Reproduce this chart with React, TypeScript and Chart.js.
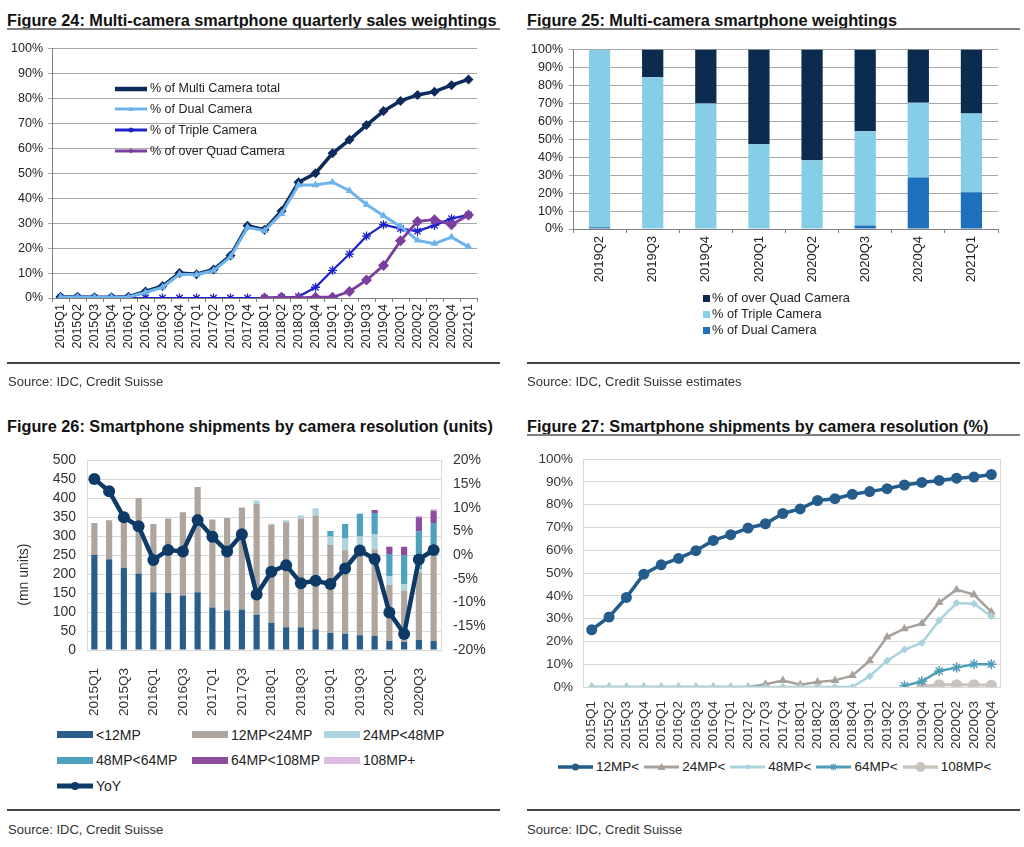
import React, { useEffect, useRef } from 'react';
import { Chart, registerables } from 'chart.js';

Chart.register(...registerables);

const FONT = "'Liberation Sans', Arial, Helvetica, sans-serif";
Chart.defaults.font.family = FONT;

// ---------- Figure 24 data ----------
const quarters24 = ['2015Q1','2015Q2','2015Q3','2015Q4','2016Q1','2016Q2','2016Q3','2016Q4','2017Q1','2017Q2','2017Q3','2017Q4','2018Q1','2018Q2','2018Q3','2018Q4','2019Q1','2019Q2','2019Q3','2019Q4','2020Q1','2020Q2','2020Q3','2020Q4','2021Q1'];
const names24 = ['% of Multi Camera total', '% of Dual Camera', '% of Triple Camera', '% of over Quad Camera'];
const multiTotal = [0.5,0.5,0.3,0.3,0.5,2.6,4.8,10,9.5,11.4,17,29,27.4,34.9,46.4,50,58,63.4,69.3,74.9,79,81.4,82.7,85.3,87.6];
const dualCam = [0.4,0.4,0.3,0.3,0.4,2.2,4.3,9.5,9.3,11,16.5,28.3,27,33.8,45.3,45.3,46.4,43,37.5,33,28.7,23.1,21.8,24.4,20.5];
const tripleCam = [0,0,0,0,0,0,0,0,0,0,0,0,0,0.3,0.5,4.3,11.1,17.6,24.8,29.4,27.8,26.8,29.1,31.8,33.3];
const quadCam = [null,null,null,null,null,null,null,null,null,null,null,null,0,0.3,0,0.3,0.3,2.6,7.2,13,22.9,30.7,31.4,29.4,33.3];
const colors24 = ['#0C2A5B', '#6EB3EC', '#1E22C8', '#7B3E9F'];

// ---------- Figure 25 data ----------
const quarters25 = ['2019Q2','2019Q3','2019Q4','2020Q1','2020Q2','2020Q3','2020Q4','2021Q1'];
const names25 = ['% of Dual Camera', '% of Triple Camera', '% of over Quad Camera'];
const dual25 = [1, 0.3, 0, 0, 0, 2, 28.7, 20.5];
const triple25 = [99, 84.3, 69.9, 47.2, 38.3, 52.4, 41.7, 43.9];
const quad25 = [0, 15.4, 30.1, 52.8, 61.7, 45.6, 29.6, 35.6];
const colors25 = ['#1C70BC', '#86CDE8', '#0B2C4E'];

// ---------- Figure 26 data ----------
const quarters26 = ['2015Q1','2015Q2','2015Q3','2015Q4','2016Q1','2016Q2','2016Q3','2016Q4','2017Q1','2017Q2','2017Q3','2017Q4','2018Q1','2018Q2','2018Q3','2018Q4','2019Q1','2019Q2','2019Q3','2019Q4','2020Q1','2020Q2','2020Q3','2020Q4'];
const names26 = ['<12MP', '12MP<24MP', '24MP<48MP', '48MP<64MP', '64MP<108MP', '108MP+', 'YoY'];
const units12 = [251,239,217,202,152,150,144,152,112,105,107,93,72,60,60,55,45,43,39,37,24,21,27,24];
const units24 = [84,103,129,199,180,197,219,278,232,243,269,292,259,277,286,300,232,220,229,229,148,136,178,234];
const units48 = [0,0,0,0,0,0,0,0,0,0,0,9,2,5,9,19,22,31,31,40,23,17,8,21];
const units64 = [0,0,0,0,0,0,0,0,0,0,0,0,0,0,0,0,15,38,60,55,58,75,100,56];
const units108 = [0,0,0,0,0,0,0,0,0,0,0,0,0,0,0,0,0,0,0,8,19,23,37,32];
const units108p = [0,0,0,0,0,0,0,0,0,0,0,0,0,0,0,0,0,0,0,0,0,0,4,5];
const yoy = [16.1,13.5,8.0,6.1,-1.0,1.1,0.8,7.4,3.9,0.8,4.4,-8.3,-3.5,-2.1,-5.9,-5.4,-6.1,-2.8,1.0,-0.8,-12.1,-16.6,-0.9,1.1];
const colors26 = ['#2B5D8B', '#ADA59E', '#AED5DF', '#4FA2BE', '#8E4C9E', '#D9BCDE', '#0D3A66'];

// ---------- Figure 27 data ----------
const quarters27 = quarters26;
const names27 = ['12MP<', '24MP<', '48MP<', '64MP<', '108MP<'];
const share12 = [25.1,30.7,39.3,49.5,53.6,56.4,59.8,64.3,66.8,69.7,71.6,76.1,78.1,81.8,82.6,84.5,85.7,87,88.6,89.7,90.6,91.6,92.1,93.2];
const share24 = [0,0,0,0,0,0,0,0,0,0,1.2,2.8,1,2.2,2.9,5,11.5,21.9,25.6,27.8,37.1,42.7,40.5,32.9];
const share48 = [0,0,0,0,0,0,0,0,0,0,0,0,0,0,0,0,4.7,11.5,16.4,19.3,29.2,36.8,36.5,31];
const share64 = [null,null,null,null,null,null,null,null,null,null,null,null,null,null,null,null,null,null,0.5,2.5,7,8.5,10,10];
const share108 = [null,null,null,null,null,null,null,null,null,null,null,null,null,null,null,null,null,null,null,0.3,1,1,1,0.8];
const colors27 = ['#245C8C', '#A8A19B', '#A9D3DD', '#4E9DB8', '#C9C3BE'];

const pct = (v: any) => v + '%';

// ---------- configs ----------
function config24(): any {
  return {
    type: 'line',
    data: {
      labels: quarters24,
      datasets: [
        { label: names24[0], data: multiTotal, borderColor: colors24[0], backgroundColor: colors24[0], borderWidth: 3.5, pointStyle: 'rectRot', pointRadius: 5, pointBorderWidth: 0, order: 2 },
        { label: names24[1], data: dualCam, borderColor: colors24[1], backgroundColor: colors24[1], borderWidth: 3, pointStyle: 'triangle', pointRadius: 4.5, pointBorderWidth: 0, order: 1 },
        { label: names24[2], data: tripleCam, borderColor: colors24[2], backgroundColor: colors24[2], borderWidth: 2.2, pointStyle: 'star', pointRadius: 4.5, pointBorderWidth: 1.3, order: 1 },
        { label: names24[3], data: quadCam, borderColor: colors24[3], backgroundColor: colors24[3], borderWidth: 2.8, pointStyle: 'rectRot', pointRadius: 5.5, pointBorderWidth: 0, order: 0 },
      ],
    },
    options: {
      animation: false, responsive: true, maintainAspectRatio: false, events: [],
      layout: { padding: { top: 7, right: 28, left: 0, bottom: 0 } },
      plugins: { legend: { display: false }, tooltip: { enabled: false } },
      scales: {
        x: {
          offset: true,
          grid: { display: true, drawOnChartArea: false, drawTicks: true, tickLength: 4, color: '#7F7F7F', offset: true },
          border: { color: '#7F7F7F' },
          ticks: { autoSkip: false, minRotation: 90, maxRotation: 90, padding: 2, color: '#222', font: { size: 12.5 } },
          afterFit: (s: any) => { s.height = 72; },
        },
        y: {
          min: 0, max: 100,
          ticks: { stepSize: 10, autoSkip: false, callback: pct, padding: 5, color: '#222', font: { size: 12.5 } },
          grid: { color: '#A6A6A6', tickLength: 4 },
          border: { color: '#7F7F7F' },
          afterFit: (s: any) => { s.width = 52; },
        },
      },
    },
  };
}

function config25(): any {
  const ds = [dual25, triple25, quad25].map((d, i) => ({
    label: names25[i], data: d, backgroundColor: colors25[i], borderWidth: 0, barPercentage: 0.4, categoryPercentage: 1,
  }));
  return {
    type: 'bar',
    data: { labels: quarters25, datasets: ds },
    options: {
      animation: false, responsive: true, maintainAspectRatio: false, events: [],
      layout: { padding: { top: 10, right: 22, left: 0, bottom: 0 } },
      plugins: { legend: { display: false }, tooltip: { enabled: false } },
      scales: {
        x: {
          stacked: true,
          grid: { display: true, drawOnChartArea: false, drawTicks: true, tickLength: 4, color: '#7F7F7F', offset: true },
          border: { color: '#7F7F7F' },
          ticks: { autoSkip: false, minRotation: 90, maxRotation: 90, padding: 3, color: '#222', font: { size: 13 } },
          afterFit: (s: any) => { s.height = 67; },
        },
        y: {
          stacked: true, min: 0, max: 100,
          ticks: { stepSize: 10, autoSkip: false, callback: pct, padding: 6, color: '#222', font: { size: 12.5 } },
          grid: { color: '#A6A6A6', tickLength: 4 },
          border: { color: '#7F7F7F' },
          afterFit: (s: any) => { s.width = 58; },
        },
      },
    },
  };
}

function config26(): any {
  const bars = [units12, units24, units48, units64, units108, units108p].map((d, i) => ({
    type: 'bar', label: names26[i], data: d, backgroundColor: colors26[i], borderWidth: 0,
    barPercentage: 0.42, categoryPercentage: 1, yAxisID: 'y', order: 1,
  }));
  return {
    type: 'bar',
    data: {
      labels: quarters26,
      datasets: [
        ...bars,
        { type: 'line', label: names26[6], data: yoy, yAxisID: 'y2', borderColor: colors26[6], backgroundColor: colors26[6], borderWidth: 4.5, pointRadius: 6, pointBorderWidth: 0, order: 0 },
      ],
    },
    options: {
      animation: false, responsive: true, maintainAspectRatio: false, events: [],
      layout: { padding: { top: 16, right: 10, left: 0, bottom: 0 } },
      plugins: { legend: { display: false }, tooltip: { enabled: false } },
      scales: {
        x: {
          stacked: true,
          grid: { display: false },
          border: { display: false },
          ticks: { autoSkip: false, minRotation: 90, maxRotation: 90, padding: 10, color: '#333', font: { size: 13.5 }, callback: (_: any, i: number) => (i % 2 === 0 ? quarters26[i] : '') },
          afterFit: (s: any) => { s.height = 70; },
        },
        y: {
          stacked: true, min: 0, max: 500, position: 'left',
          ticks: { stepSize: 50, autoSkip: false, padding: 11, color: '#333', font: { size: 14 } },
          grid: { color: '#D9D9D9', drawTicks: false },
          border: { color: '#D9D9D9' },
          title: { display: true, text: '(mn units)          ', color: '#333', font: { size: 14 }, padding: { top: 16, bottom: 0 } },
          afterFit: (s: any) => { s.width = 87; },
        },
        y2: {
          min: -20, max: 20, position: 'right',
          ticks: { stepSize: 5, autoSkip: false, callback: pct, padding: 12, color: '#333', font: { size: 14 } },
          grid: { drawOnChartArea: false, drawTicks: false },
          border: { color: '#D9D9D9' },
          afterFit: (s: any) => { s.width = 54; },
        },
      },
    },
  };
}

function config27(): any {
  const styles = [
    { w: 3.5, ps: 'circle', r: 5.5, bw: 0, order: 0 },
    { w: 2.5, ps: 'triangle', r: 5, bw: 0, order: 3 },
    { w: 2.5, ps: 'rectRot', r: 4, bw: 0, order: 2 },
    { w: 2.5, ps: 'star', r: 5, bw: 1.5, order: 1 },
    { w: 3, ps: 'circle', r: 5.5, bw: 0, order: 1 },
  ];
  const ds = [share12, share24, share48, share64, share108].map((d, i) => ({
    label: names27[i], data: d, borderColor: colors27[i], backgroundColor: colors27[i],
    borderWidth: styles[i].w, pointStyle: styles[i].ps, pointRadius: styles[i].r, pointBorderWidth: styles[i].bw, order: styles[i].order,
  }));
  return {
    type: 'line',
    data: { labels: quarters27, datasets: ds },
    options: {
      animation: false, responsive: true, maintainAspectRatio: false, events: [],
      layout: { padding: { top: 19, right: 20, left: 0, bottom: 0 } },
      plugins: { legend: { display: false }, tooltip: { enabled: false } },
      scales: {
        x: {
          offset: true,
          grid: { display: false },
          border: { display: false },
          ticks: { autoSkip: false, minRotation: 90, maxRotation: 90, padding: 6, color: '#333', font: { size: 13.5 } },
          afterFit: (s: any) => { s.height = 63; },
        },
        y: {
          min: 0, max: 100,
          ticks: { stepSize: 10, autoSkip: false, callback: pct, padding: 10, color: '#333', font: { size: 13.5 } },
          grid: { color: '#D9D9D9', drawTicks: false },
          border: { color: '#D9D9D9' },
          afterFit: (s: any) => { s.width = 68; },
        },
        yR: {
          position: 'right', min: 0, max: 100,
          ticks: { display: false },
          grid: { drawOnChartArea: false, drawTicks: false },
          border: { color: '#D9D9D9' },
          afterFit: (s: any) => { s.width = 0; },
        },
      },
    },
  };
}

// ---------- components ----------
function ChartBox({ left, top, width, height, config }: { left: number; top: number; width: number; height: number; config: () => any }) {
  const ref = useRef<HTMLCanvasElement>(null);
  useEffect(() => {
    if (!ref.current) return;
    const chart = new Chart(ref.current, config());
    return () => chart.destroy();
  }, []);
  return (
    <div style={{ position: 'absolute', left, top, width, height }}>
      <canvas ref={ref} />
    </div>
  );
}

type Marker = 'none' | 'circle' | 'triangle' | 'diamond' | 'star';

function LineSwatch({ w, color, lw, marker, ms }: { w: number; color: string; lw: number; marker: Marker; ms: number }) {
  const h = 14, cy = 7, cx = w / 2;
  let m: any = null;
  if (marker === 'circle') m = <circle cx={cx} cy={cy} r={ms} fill={color} />;
  if (marker === 'triangle') m = <polygon points={`${cx},${cy - ms} ${cx + ms},${cy + ms * 0.75} ${cx - ms},${cy + ms * 0.75}`} fill={color} />;
  if (marker === 'diamond') m = <polygon points={`${cx},${cy - ms} ${cx + ms},${cy} ${cx},${cy + ms} ${cx - ms},${cy}`} fill={color} />;
  if (marker === 'star') {
    const d = ms * 0.707;
    m = (
      <g stroke={color} strokeWidth={1.3}>
        <line x1={cx - ms} y1={cy} x2={cx + ms} y2={cy} />
        <line x1={cx} y1={cy - ms} x2={cx} y2={cy + ms} />
        <line x1={cx - d} y1={cy - d} x2={cx + d} y2={cy + d} />
        <line x1={cx - d} y1={cy + d} x2={cx + d} y2={cy - d} />
      </g>
    );
  }
  return (
    <svg width={w} height={h} style={{ display: 'block', flex: 'none' }}>
      <line x1={0} y1={cy} x2={w} y2={cy} stroke={color} strokeWidth={lw} />
      {m}
    </svg>
  );
}

const textBase: React.CSSProperties = { position: 'absolute', fontFamily: FONT, whiteSpace: 'nowrap', lineHeight: 1 };

function Title({ left, top, text }: { left: number; top: number; text: string }) {
  return <div style={{ ...textBase, left, top, fontSize: 16.3, fontWeight: 'bold', color: '#111' }}>{text}</div>;
}
function Rule({ left, top, width, h, color }: { left: number; top: number; width: number; h: number; color: string }) {
  return <div style={{ position: 'absolute', left, top, width, height: h, background: color }} />;
}
function Source({ left, top, text }: { left: number; top: number; text: string }) {
  return <div style={{ ...textBase, left, top, fontSize: 13, color: '#333' }}>{text}</div>;
}

export default function App() {
  const leg24 = [
    { lw: 4.5, marker: 'none' as Marker, ms: 0 },
    { lw: 3, marker: 'triangle' as Marker, ms: 2.5 },
    { lw: 3, marker: 'star' as Marker, ms: 2.5 },
    { lw: 3, marker: 'diamond' as Marker, ms: 2.5 },
  ];
  const leg25Order = [2, 1, 0];
  const leg26Pos = [
    [57, 734.5], [192, 734.5], [324, 734.5],
    [57, 760], [192, 760], [324, 760],
  ];
  const leg27 = [
    { lw: 3.5, marker: 'circle' as Marker, ms: 3.5 },
    { lw: 3, marker: 'triangle' as Marker, ms: 4 },
    { lw: 3, marker: 'diamond' as Marker, ms: 3 },
    { lw: 3, marker: 'star' as Marker, ms: 3.5 },
    { lw: 3.5, marker: 'circle' as Marker, ms: 5 },
  ];

  return (
    <div style={{ position: 'absolute', left: 0, top: 0, width: 1024, height: 847, background: '#fff', overflow: 'hidden' }}>
      {/* Figure 24 */}
      <Title left={7} top={11.5} text="Figure 24: Multi-camera smartphone quarterly sales weightings" />
      <Rule left={7} top={28} width={493} h={2} color="#7F7F7F" />
      <ChartBox left={0} top={36} width={505} height={334} config={config24} />
      {names24.map((n, i) => (
        <div key={n} style={{ ...textBase, left: 115, top: [88.5, 109, 130, 151][i] - 7, height: 14, display: 'flex', alignItems: 'center', fontSize: 12.5, color: '#222' }}>
          <LineSwatch w={32} color={colors24[i]} lw={leg24[i].lw} marker={leg24[i].marker} ms={leg24[i].ms} />
          <span style={{ marginLeft: 3 }}>{n}</span>
        </div>
      ))}
      <Rule left={7} top={362} width={493} h={1.5} color="#444" />
      <Source left={8} top={375} text="Source: IDC, Credit Suisse" />

      {/* Figure 25 */}
      <Title left={527} top={11.5} text="Figure 25: Multi-camera smartphone weightings" />
      <Rule left={527} top={28} width={493} h={2} color="#7F7F7F" />
      <ChartBox left={515} top={36} width={505} height={260} config={config25} />
      {leg25Order.map((idx, r) => (
        <div key={names25[idx]} style={{ ...textBase, left: 703, top: [298.5, 314, 330][r] - 7, height: 14, display: 'flex', alignItems: 'center', fontSize: 12.8, color: '#222' }}>
          <div style={{ width: 7, height: 7, background: colors25[idx], flex: 'none' }} />
          <span style={{ marginLeft: 2 }}>{names25[idx]}</span>
        </div>
      ))}
      <Rule left={527} top={362} width={493} h={1.5} color="#444" />
      <Source left={527} top={375} text="Source: IDC, Credit Suisse estimates" />

      {/* Figure 26 */}
      <Title left={7} top={418} text="Figure 26: Smartphone shipments by camera resolution (units)" />
      <ChartBox left={0} top={440} width={505} height={280} config={config26} />
      {names26.slice(0, 6).map((n, i) => (
        <div key={n} style={{ ...textBase, left: leg26Pos[i][0], top: leg26Pos[i][1] - 8, height: 16, display: 'flex', alignItems: 'center', fontSize: 14, color: '#222' }}>
          <div style={{ width: 36, height: 7, background: colors26[i], flex: 'none' }} />
          <span style={{ marginLeft: 3 }}>{n}</span>
        </div>
      ))}
      <div style={{ ...textBase, left: 57, top: 786 - 8, height: 16, display: 'flex', alignItems: 'center', fontSize: 14, color: '#222' }}>
        <LineSwatch w={36} color={colors26[6]} lw={5} marker="circle" ms={4} />
        <span style={{ marginLeft: 3 }}>{names26[6]}</span>
      </div>
      <Rule left={7} top={809} width={493} h={1.5} color="#444" />
      <Source left={8} top={823} text="Source: IDC, Credit Suisse" />

      {/* Figure 27 */}
      <Title left={527} top={417.5} text="Figure 27: Smartphone shipments by camera resolution (%)" />
      <Rule left={527} top={434} width={493} h={2} color="#7F7F7F" />
      <ChartBox left={515} top={440} width={505} height={310} config={config27} />
      <div style={{ ...textBase, left: 558, top: 767 - 8, height: 16, display: 'flex', alignItems: 'center', fontSize: 13.5, color: '#222' }}>
        {names27.map((n, i) => (
          <div key={n} style={{ display: 'flex', alignItems: 'center', marginRight: 5 }}>
            <LineSwatch w={35} color={colors27[i]} lw={leg27[i].lw} marker={leg27[i].marker} ms={leg27[i].ms} />
            <span style={{ marginLeft: 3 }}>{n}</span>
          </div>
        ))}
      </div>
      <Rule left={527} top={809} width={493} h={1.5} color="#444" />
      <Source left={527} top={823} text="Source: IDC, Credit Suisse" />
    </div>
  );
}
